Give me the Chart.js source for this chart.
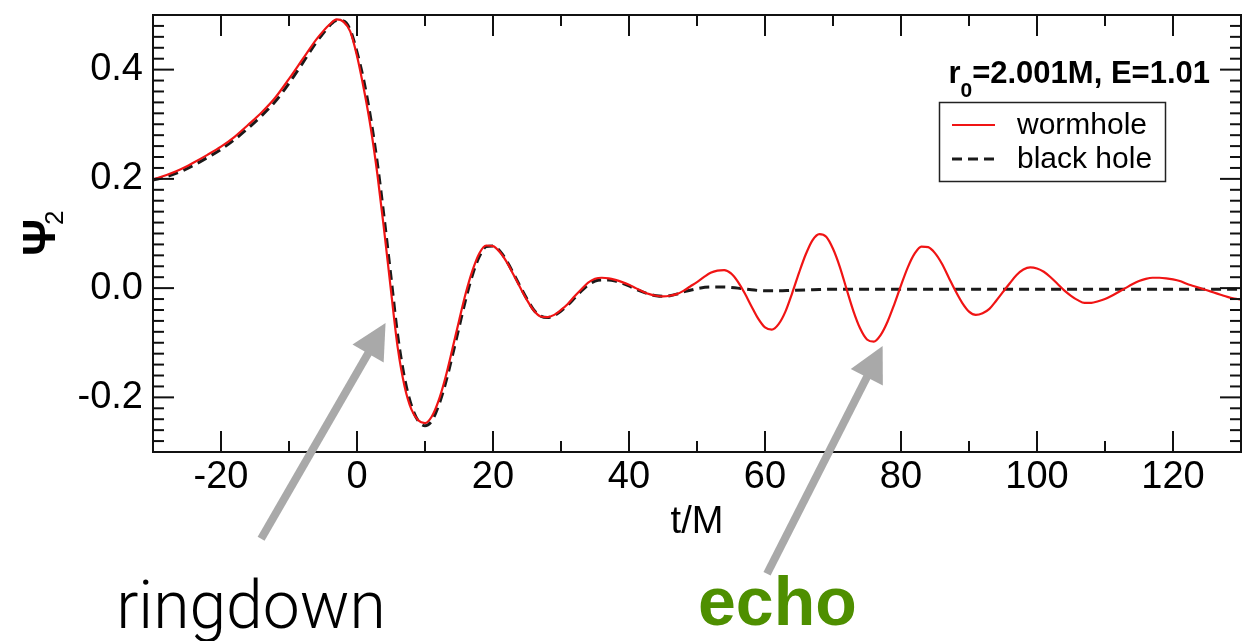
<!DOCTYPE html>
<html>
<head>
<meta charset="utf-8">
<script src="https://cdn.jsdelivr.net/npm/chart.js"></script>
<style>
html, body { margin: 0; padding: 0; background: #fff; }
#wrap { position: relative; width: 1242px; height: 641px; }
</style>
</head>
<body>
<div id="wrap"><canvas id="psiChart"></canvas></div>
<script>
// time samples (t/M) and Psi_2
var tWormhole = [-30, -28, -26, -24, -22, -20, -18, -16, -14, -12, -10, -8, -6, -5, -4, -3, -2, -1,
  0, 1, 2, 3, 4, 5, 6, 7, 8, 9, 10, 11, 12, 13, 14, 15, 16, 17, 18, 19, 20, 21, 22, 23, 24, 25, 26, 27, 28, 29,
  30, 31, 32, 33, 34, 35, 36, 37, 38, 39, 40, 41, 42, 43, 44, 45, 46, 47, 48, 49, 50, 51, 52, 53, 54, 55, 56, 57, 58, 59,
  60, 61, 62, 63, 64, 65, 66, 67, 68, 69, 70, 71, 72, 73, 74, 75, 76, 77, 78, 79, 80, 81, 82, 83, 84, 85, 86, 87, 88, 89,
  90, 91, 92, 93, 94, 95, 96, 97, 98, 99, 100, 101, 102, 103, 104, 105, 106, 107, 108, 109, 110, 111, 112, 113, 114, 115,
  116, 117, 118, 119, 120, 121, 122, 123, 124, 125, 126, 127, 128, 129, 130];
var psiWormhole = [0.199, 0.207, 0.217, 0.230, 0.244, 0.259, 0.277, 0.299, 0.322, 0.349, 0.383, 0.419, 0.455, 0.470, 0.483, 0.492, 0.488, 0.470,
  0.425, 0.365, 0.295, 0.208, 0.105, -0.005, -0.110, -0.180, -0.222, -0.242, -0.247, -0.235, -0.206, -0.164, -0.113, -0.060, -0.009, 0.033, 0.064, 0.078, 0.077, 0.066, 0.048, 0.025, 0.001, -0.022, -0.041, -0.052, -0.053, -0.049,
  -0.040, -0.029, -0.015, -0.002, 0.010, 0.017, 0.019, 0.018, 0.015, 0.011, 0.006, 0.000, -0.006, -0.011, -0.014, -0.015, -0.014, -0.011, -0.005, 0.003, 0.011, 0.020, 0.028, 0.032, 0.033, 0.027, 0.012, -0.009, -0.033, -0.056,
  -0.072, -0.076, -0.066, -0.043, -0.009, 0.028, 0.062, 0.088, 0.099, 0.094, 0.072, 0.039, -0.002, -0.042, -0.074, -0.094, -0.098, -0.086, -0.062, -0.030, 0.005, 0.038, 0.063, 0.076, 0.075, 0.064, 0.045, 0.020, -0.005, -0.027,
  -0.043, -0.049, -0.046, -0.038, -0.023, -0.007, 0.009, 0.024, 0.034, 0.038, 0.036, 0.030, 0.020, 0.008, -0.004, -0.014, -0.022, -0.027, -0.027, -0.024, -0.020, -0.014, -0.007, 0.000, 0.007, 0.013,
  0.017, 0.019, 0.019, 0.018, 0.016, 0.013, 0.008, 0.004, 0.000, -0.004, -0.008, -0.012, -0.016, -0.019, -0.021];

var tBlackHole = [-30, -28, -26, -24, -22, -20, -18, -16, -14, -12, -10, -8, -6, -5, -4, -3, -2, -1,
  0, 1, 2, 3, 4, 5, 6, 7, 8, 9, 10, 11, 12, 13, 14, 15, 16, 17, 18, 19, 20, 21, 22, 23, 24, 25, 26, 27, 28, 29,
  30, 31, 32, 33, 34, 35, 36, 37, 38, 39, 40, 41, 42, 43, 44, 45, 46, 47, 48, 49, 50, 52, 54, 56, 58,
  60, 62, 64, 67, 70, 75, 80, 90, 100, 110, 120, 130];
var psiBlackHole = [0.198, 0.204, 0.213, 0.225, 0.239, 0.254, 0.272, 0.293, 0.316, 0.342, 0.375, 0.412, 0.450, 0.466, 0.481, 0.490, 0.489, 0.473,
  0.432, 0.380, 0.312, 0.228, 0.128, 0.020, -0.088, -0.165, -0.215, -0.243, -0.252, -0.243, -0.215, -0.175, -0.125, -0.072, -0.020, 0.025, 0.058, 0.076, 0.077, 0.068, 0.050, 0.027, 0.003, -0.020, -0.040, -0.051, -0.054, -0.050,
  -0.042, -0.031, -0.018, -0.005, 0.006, 0.013, 0.015, 0.015, 0.013, 0.009, 0.004, -0.002, -0.007, -0.011, -0.014, -0.015, -0.014, -0.011, -0.007, -0.004, -0.001, 0.002, 0.002, 0.000, -0.003,
  -0.005, -0.005, -0.004, -0.003, -0.002, -0.002, -0.002, -0.002, -0.002, -0.002, -0.002, -0.002];

var xTickLabels = [-20, 0, 20, 40, 60, 80, 100, 120];
var yTickLabels = [-0.2, 0.0, 0.2, 0.4];

var FONT = "'Liberation Sans', Arial, Helvetica, sans-serif";

function toPoints(xs, ys) {
  return xs.map(function (x, i) { return { x: x, y: ys[i] }; });
}

function line(ctx, x1, y1, x2, y2) {
  ctx.beginPath(); ctx.moveTo(x1, y1); ctx.lineTo(x2, y2); ctx.stroke();
}

// frame with inward ticks on all four sides, legend box, parameter label
var framePlugin = {
  id: 'frame',
  afterDatasetsDraw: function (chart) {
    var ctx = chart.ctx, a = chart.chartArea;
    var xs = chart.scales.x, ys = chart.scales.y;
    ctx.save();
    ctx.strokeStyle = '#111';
    ctx.lineWidth = 2;
    ctx.strokeRect(a.left, a.top, a.right - a.left, a.bottom - a.top);

    for (var t = -20; t <= 120; t += 10) {
      var px = xs.getPixelForValue(t);
      var len = (t % 20 === 0) ? 21 : 11;
      line(ctx, px, a.bottom, px, a.bottom - len);
      line(ctx, px, a.top, px, a.top + len);
    }
    for (var i = -14; i <= 24; i++) {
      var py = ys.getPixelForValue(i * 0.02);
      var l = (i % 10 === 0) ? 21 : 11;
      line(ctx, a.left, py, a.left + l, py);
      line(ctx, a.right, py, a.right - l, py);
    }

    // parameter label
    ctx.fillStyle = '#000';
    ctx.textBaseline = 'alphabetic';
    ctx.font = 'bold 31px ' + FONT;
    var rest = '=2.001M, E=1.01';
    var restW = ctx.measureText(rest).width;
    ctx.font = 'bold 21px ' + FONT;
    var subW = ctx.measureText('0').width;
    ctx.font = 'bold 31px ' + FONT;
    var rW = ctx.measureText('r').width;
    var x0 = 1210 - restW - subW - rW;
    ctx.fillText('r', x0, 83);
    ctx.fillText(rest, x0 + rW + subW, 83);
    ctx.font = 'bold 21px ' + FONT;
    ctx.fillText('0', x0 + rW, 97);

    // legend
    ctx.lineWidth = 1.5;
    ctx.strokeStyle = '#222';
    ctx.strokeRect(939.5, 102.5, 226, 79);
    var ds = chart.data.datasets;
    var rows = [125, 159];
    ds.forEach(function (d, k) {
      ctx.save();
      ctx.strokeStyle = d.borderColor;
      ctx.lineWidth = d.borderWidth;
      ctx.setLineDash(d.borderDash || []);
      line(ctx, 952, rows[k], 995, rows[k]);
      ctx.restore();
      ctx.fillStyle = '#000';
      ctx.font = '30px ' + FONT;
      ctx.textBaseline = 'middle';
      ctx.fillText(d.label, 1017, rows[k] + 1);
    });

    // y axis title: Psi_2
    ctx.save();
    ctx.translate(55, 256);
    ctx.rotate(-Math.PI / 2);
    ctx.textBaseline = 'alphabetic';
    ctx.fillStyle = '#000';
    ctx.font = 'bold 46px ' + FONT;
    ctx.fillText('Ψ', 0, 0);
    ctx.font = '26px ' + FONT;
    ctx.fillText('2', 31, 8);
    ctx.restore();
    ctx.restore();
  }
};

// grey arrows with the "ringdown" / "echo" callouts, anchored in data space
function arrow(ctx, x1, y1, x2, y2) {
  var dx = x2 - x1, dy = y2 - y1, len = Math.sqrt(dx * dx + dy * dy);
  var ux = dx / len, uy = dy / len, head = 35, half = 18;
  var bx = x2 - ux * head, by = y2 - uy * head;
  ctx.lineWidth = 8;
  line(ctx, x1, y1, bx + ux * 2, by + uy * 2);
  ctx.beginPath();
  ctx.moveTo(x2, y2);
  ctx.lineTo(bx - uy * half, by + ux * half);
  ctx.lineTo(bx + uy * half, by - ux * half);
  ctx.closePath();
  ctx.fill();
}

var calloutPlugin = {
  id: 'callouts',
  afterDraw: function (chart) {
    var ctx = chart.ctx, xs = chart.scales.x, ys = chart.scales.y;
    ctx.save();
    ctx.strokeStyle = '#a9a9a9';
    ctx.fillStyle = '#a9a9a9';
    arrow(ctx, xs.getPixelForValue(-14.1), ys.getPixelForValue(-0.459),
      xs.getPixelForValue(4.2), ys.getPixelForValue(-0.064));
    arrow(ctx, xs.getPixelForValue(60.3), ys.getPixelForValue(-0.523),
      xs.getPixelForValue(77.3), ys.getPixelForValue(-0.106));

    ctx.textBaseline = 'alphabetic';
    ctx.fillStyle = '#000';
    ctx.font = '300 66px Roboto, ' + FONT;
    ctx.textAlign = 'center';
    ctx.fillText('ringdown', 251, 628);
    ctx.fillStyle = '#4e8f00';
    ctx.font = 'bold 68px ' + FONT;
    ctx.textAlign = 'left';
    ctx.fillText('echo', 698, 625);
    ctx.restore();
  }
};

var ctx = document.getElementById('psiChart').getContext('2d');
var psiChart = new Chart(ctx, {
  type: 'line',
  data: {
    datasets: [{
      label: 'wormhole',
      data: toPoints(tWormhole, psiWormhole),
      borderColor: '#f01414',
      borderWidth: 2.2,
      pointRadius: 0,
      cubicInterpolationMode: 'monotone',
      fill: false
    }, {
      label: 'black hole',
      data: toPoints(tBlackHole, psiBlackHole),
      borderColor: '#1a1a1a',
      borderWidth: 3,
      borderDash: [10, 6],
      pointRadius: 0,
      cubicInterpolationMode: 'monotone',
      fill: false
    }]
  },
  options: {
    responsive: true,
    maintainAspectRatio: false,
    animation: false,
    layout: { padding: { top: 15, right: 1, left: 0, bottom: 0 } },
    plugins: { legend: { display: false }, tooltip: { enabled: false } },
    scales: {
      x: {
        type: 'linear',
        min: -30,
        max: 130,
        grid: { display: false, drawTicks: false },
        border: { display: false },
        afterBuildTicks: function (s) { s.ticks = xTickLabels.map(function (v) { return { value: v }; }); },
        afterFit: function (s) { s.height = 189; s.paddingLeft = 0; s.paddingRight = 0; },
        ticks: { padding: 3, color: '#000', autoSkip: false, maxRotation: 0, font: { family: FONT, size: 38 } },
        title: { display: true, text: 't/M', color: '#000', font: { family: FONT, size: 38 }, padding: { top: 0, bottom: 96 } }
      },
      y: {
        min: -0.3,
        max: 0.5,
        grid: { display: false, drawTicks: false },
        border: { display: false },
        afterBuildTicks: function (s) { s.ticks = yTickLabels.map(function (v) { return { value: v }; }); },
        afterFit: function (s) { s.width = 153; s.paddingTop = 0; s.paddingBottom = 0; },
        ticks: {
          padding: 10, color: '#000', font: { family: FONT, size: 38 },
          callback: function (v) { return Number(v).toFixed(1); }
        }
      }
    }
  },
  plugins: [framePlugin, calloutPlugin]
});
</script>
</body>
</html>
